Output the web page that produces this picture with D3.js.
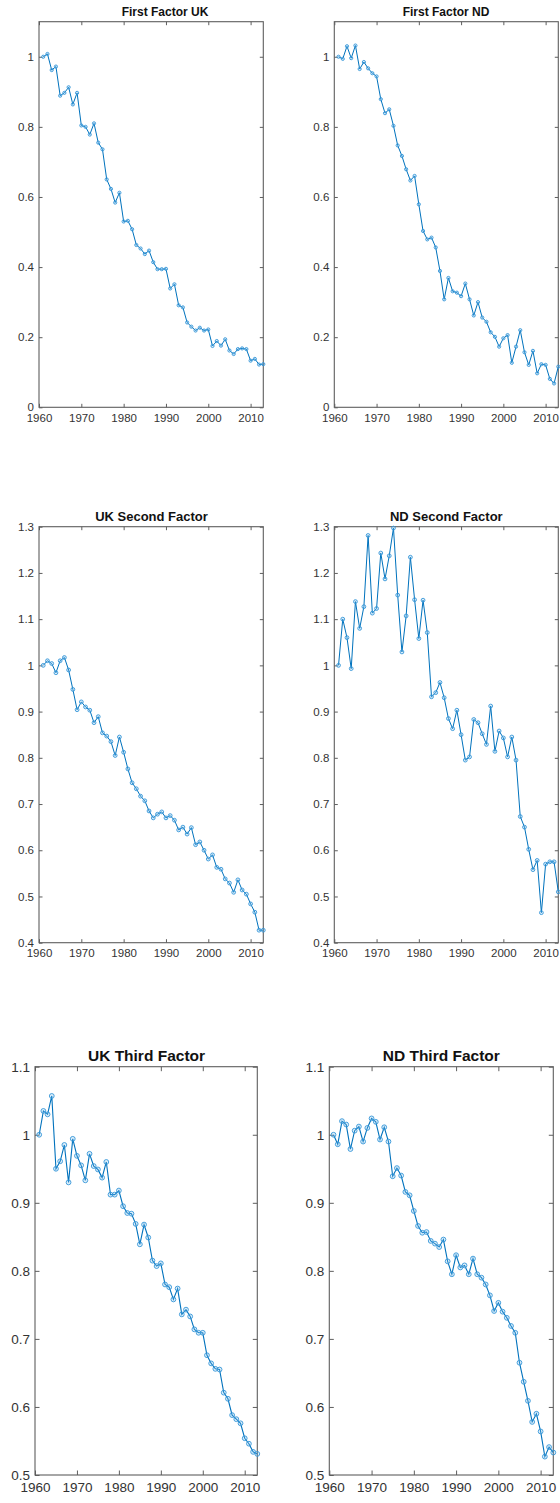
<!DOCTYPE html>
<html><head><meta charset="utf-8">
<script src="https://cdn.jsdelivr.net/npm/d3@7"></script>
<style>
body{margin:0;background:#fff;}
svg{display:block;font-family:"Liberation Sans",Arial,Helvetica,sans-serif;}
</style></head>
<body>
<script>
// ---------- data ----------
const years = [1961,1962,1963,1964,1965,1966,1967,1968,1969,1970,
1971,1972,1973,1974,1975,1976,1977,1978,1979,1980,
1981,1982,1983,1984,1985,1986,1987,1988,1989,1990,
1991,1992,1993,1994,1995,1996,1997,1998,1999,2000,
2001,2002,2003,2004,2005,2006,2007,2008,2009,2010,
2011,2012,2013];

const ukFirst = [1.0,1.008,0.962,0.972,0.889,0.897,0.913,0.864,0.897,0.804,
0.800,0.778,0.810,0.755,0.736,0.650,0.623,0.584,0.612,0.530,
0.532,0.508,0.463,0.453,0.437,0.447,0.414,0.394,0.394,0.395,
0.339,0.351,0.291,0.285,0.242,0.230,0.219,0.227,0.219,0.222,
0.175,0.189,0.176,0.194,0.162,0.152,0.166,0.168,0.166,0.133,
0.138,0.122,0.123];

const ndFirst = [1.0,0.994,1.030,0.996,1.032,0.965,0.985,0.967,0.953,0.944,
0.879,0.839,0.850,0.803,0.747,0.717,0.679,0.647,0.660,0.579,
0.503,0.479,0.484,0.456,0.389,0.308,0.369,0.331,0.327,0.317,
0.353,0.308,0.262,0.300,0.256,0.244,0.214,0.201,0.173,0.197,
0.206,0.127,0.173,0.220,0.157,0.121,0.161,0.097,0.123,0.121,
0.081,0.068,0.116];

const ukSecond = [1.0,1.010,1.004,0.984,1.010,1.017,0.990,0.948,0.904,0.921,
0.910,0.903,0.876,0.889,0.854,0.847,0.835,0.805,0.845,0.812,
0.776,0.746,0.733,0.717,0.707,0.685,0.670,0.678,0.683,0.670,
0.675,0.665,0.644,0.650,0.635,0.649,0.612,0.618,0.600,0.581,
0.590,0.563,0.559,0.538,0.529,0.509,0.536,0.514,0.505,0.484,
0.466,0.427,0.427];

const ndSecond = [1.0,1.100,1.060,0.993,1.138,1.080,1.127,1.281,1.113,1.123,
1.243,1.187,1.237,1.297,1.152,1.029,1.107,1.234,1.142,1.058,
1.141,1.071,0.932,0.941,0.963,0.930,0.885,0.863,0.903,0.850,
0.795,0.802,0.883,0.876,0.852,0.829,0.912,0.814,0.858,0.843,
0.802,0.845,0.795,0.673,0.650,0.602,0.558,0.578,0.465,0.570,
0.575,0.575,0.510];

const ukThird = [1.0,1.035,1.030,1.057,0.950,0.961,0.985,0.930,0.994,0.969,
0.955,0.933,0.972,0.954,0.949,0.937,0.960,0.912,0.912,0.918,
0.895,0.885,0.884,0.869,0.839,0.868,0.849,0.815,0.807,0.811,
0.780,0.776,0.758,0.774,0.736,0.743,0.733,0.714,0.709,0.709,
0.676,0.664,0.656,0.655,0.621,0.612,0.588,0.582,0.576,0.554,
0.546,0.534,0.531];

const ndThird = [1.0,0.986,1.020,1.015,0.979,1.006,1.012,0.990,1.010,1.024,
1.019,0.993,1.011,0.990,0.939,0.951,0.940,0.916,0.911,0.888,
0.866,0.856,0.857,0.844,0.840,0.835,0.846,0.814,0.795,0.823,
0.805,0.808,0.795,0.818,0.795,0.790,0.780,0.764,0.741,0.753,
0.740,0.731,0.719,0.709,0.665,0.637,0.609,0.578,0.590,0.564,
0.527,0.541,0.533];

const titles = ["First Factor UK","First Factor ND","UK Second Factor","ND Second Factor","UK Third Factor","ND Third Factor"];
const xTicks = [1960,1970,1980,1990,2000,2010];
const xDomain = [1960,2013];
const yTicksRow1 = [0,0.2,0.4,0.6,0.8,1];
const yTicksRow2 = [0.4,0.5,0.6,0.7,0.8,0.9,1,1.1,1.2,1.3];
const yTicksRow3 = [0.5,0.6,0.7,0.8,0.9,1,1.1];
const yDomainRow1 = [0,1.1];
const yDomainRow2 = [0.4,1.3];
const yDomainRow3 = [0.5,1.1];

// ---------- layout ----------
const W = 560, H = 1503;
const svg = d3.select("body").append("svg").attr("width",W).attr("height",H);

const panels = [
 {series:ukFirst, title:titles[0], x0:39, x1:263.3, y0:21.7, y1:407.3, yd:yDomainRow1, yt:yTicksRow1, fs:11.5, tfs:12, tx:165, ty:16, r:1.6, lw:1},
 {series:ndFirst, title:titles[1], x0:334.3, x1:558.3, y0:21.7, y1:407.3, yd:yDomainRow1, yt:yTicksRow1, fs:11.5, tfs:12, tx:446, ty:16, r:1.6, lw:1},
 {series:ukSecond, title:titles[2], x0:39, x1:263.3, y0:526.7, y1:942.7, yd:yDomainRow2, yt:yTicksRow2, fs:11.5, tfs:13, tx:151.5, ty:521, r:1.9, lw:1},
 {series:ndSecond, title:titles[3], x0:334.3, x1:558.3, y0:526.7, y1:942.7, yd:yDomainRow2, yt:yTicksRow2, fs:11.5, tfs:13, tx:446.3, ty:521, r:1.9, lw:1},
 {series:ukThird, title:titles[4], x0:35, x1:257.3, y0:1066.7, y1:1475, yd:yDomainRow3, yt:yTicksRow3, fs:13.5, tfs:15.5, tx:146.5, ty:1060.5, r:2.4, lw:1.1},
 {series:ndThird, title:titles[5], x0:329.3, x1:553.3, y0:1066.7, y1:1475, yd:yDomainRow3, yt:yTicksRow3, fs:13.5, tfs:15.5, tx:441.3, ty:1060.5, r:2.4, lw:1.1}
];

const axisCol = "#5e5e5e", textCol = "#333", lineCol = "#0072BD", markCol = "#3796d8";
const fmt = d3.format("~g");

panels.forEach(p => {
  const x = d3.scaleLinear().domain(xDomain).range([p.x0, p.x1]);
  const y = d3.scaleLinear().domain(p.yd).range([p.y1, p.y0]);
  const g = svg.append("g");
  const tl = p.fs > 12 ? 4.5 : 3.5;

  // bottom axis
  const gb = g.append("g").attr("transform",`translate(0,${p.y1})`)
    .call(d3.axisBottom(x).tickValues(xTicks).tickFormat(d3.format("d")).tickSizeInner(-tl).tickSizeOuter(0).tickPadding(p.fs>12?5:4));
  // top axis
  const gt = g.append("g").attr("transform",`translate(0,${p.y0})`)
    .call(d3.axisTop(x).tickValues(xTicks).tickFormat("").tickSizeInner(-tl).tickSizeOuter(0));
  // left axis
  const gl = g.append("g").attr("transform",`translate(${p.x0},0)`)
    .call(d3.axisLeft(y).tickValues(p.yt).tickFormat(fmt).tickSizeInner(-tl).tickSizeOuter(0).tickPadding(p.fs>12?5:5));
  // right axis
  const gr = g.append("g").attr("transform",`translate(${p.x1},0)`)
    .call(d3.axisRight(y).tickValues(p.yt).tickFormat("").tickSizeInner(-tl).tickSizeOuter(0));

  [gb,gt,gl,gr].forEach(a => {
    a.select(".domain").remove();
    a.selectAll(".tick line").attr("stroke",axisCol).attr("stroke-width",1);
    a.selectAll(".tick text").attr("fill",textCol).style("font-size",p.fs+"px")
      .style("font-family",'"Liberation Sans",Arial,Helvetica,sans-serif');
  });
  gb.selectAll(".tick text").attr("dy","0.9em");

  // box
  g.append("rect").attr("x",p.x0).attr("y",p.y0).attr("width",p.x1-p.x0).attr("height",p.y1-p.y0)
    .attr("fill","none").attr("stroke",axisCol).attr("stroke-width",1.1);

  // title
  g.append("text").attr("x",p.tx).attr("y",p.ty).attr("text-anchor","middle")
    .attr("font-weight","bold").style("font-size",p.tfs+"px").attr("fill","#111").text(p.title);

  const pts = years.map((yr,i)=>({yr, v:p.series[i]}));
  g.append("path").datum(pts)
    .attr("d", d3.line().x(d=>x(d.yr)).y(d=>y(d.v)))
    .attr("fill","none").attr("stroke",lineCol).attr("stroke-width",p.lw);
  g.selectAll("circle.m").data(pts).enter().append("circle").attr("class","m")
    .attr("cx",d=>x(d.yr)).attr("cy",d=>y(d.v)).attr("r",p.r)
    .attr("fill","rgba(120,190,240,0.25)").attr("stroke",markCol).attr("stroke-width",0.9);
});
</script>
</body></html>
